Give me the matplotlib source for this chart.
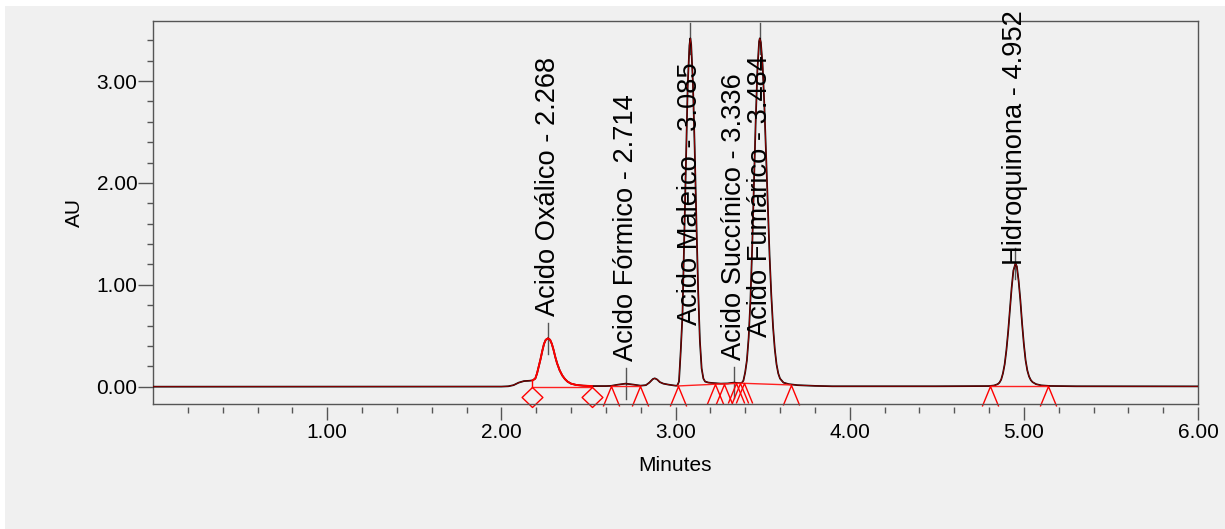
import numpy as np
import matplotlib
matplotlib.use('Agg')
import matplotlib.pyplot as plt
from matplotlib.path import Path
from matplotlib.patches import Rectangle
from matplotlib.ticker import FixedLocator, MultipleLocator, FormatStrFormatter

plt.rcParams['font.family'] = ['Liberation Sans', 'DejaVu Sans']

# detector trace, minutes vs AU
minutes = [0.00, 1.90, 2.00, 2.04, 2.07, 2.10, 2.13, 2.16, 2.18, 2.195,
           2.205, 2.215, 2.225, 2.235, 2.245, 2.255, 2.268, 2.28, 2.29, 2.30,
           2.31, 2.32, 2.335, 2.35, 2.365, 2.38, 2.40, 2.43, 2.47, 2.52,
           2.60, 2.63, 2.67, 2.714, 2.76, 2.80, 2.83, 2.85, 2.87, 2.881,
           2.895, 2.91, 2.93, 2.96, 2.99, 3.00, 3.01, 3.02, 3.03, 3.04,
           3.05, 3.06, 3.07, 3.08, 3.085, 3.09, 3.10, 3.11, 3.12, 3.13,
           3.14, 3.15, 3.16, 3.17, 3.19, 3.22, 3.26, 3.30, 3.336, 3.36,
           3.38, 3.39, 3.40, 3.41, 3.42, 3.43, 3.44, 3.45, 3.46, 3.47,
           3.48, 3.484, 3.49, 3.50, 3.51, 3.52, 3.53, 3.54, 3.55, 3.56,
           3.57, 3.58, 3.59, 3.60, 3.62, 3.65, 3.70, 3.80, 3.90, 4.50,
           4.80, 4.83, 4.85, 4.86, 4.87, 4.88, 4.89, 4.90, 4.91, 4.92,
           4.93, 4.94, 4.952, 4.96, 4.97, 4.98, 4.99, 5.00, 5.01, 5.02,
           5.03, 5.04, 5.05, 5.07, 5.10, 5.15, 5.30, 6.00]
au = [0.000, 0.000, 0.001, 0.004, 0.015, 0.040, 0.055, 0.058, 0.062, 0.080,
      0.130, 0.200, 0.270, 0.350, 0.420, 0.460, 0.475, 0.460, 0.420, 0.360,
      0.290, 0.230, 0.160, 0.110, 0.075, 0.050, 0.030, 0.017, 0.010, 0.006,
      0.006, 0.008, 0.020, 0.030, 0.020, 0.010, 0.015, 0.040, 0.075, 0.082,
      0.070, 0.045, 0.030, 0.020, 0.012, 0.010, 0.010, 0.050, 0.350, 0.700,
      1.450, 2.200, 2.950, 3.350, 3.420, 3.360, 2.980, 2.350, 1.620, 0.950,
      0.450, 0.180, 0.080, 0.050, 0.040, 0.035, 0.030, 0.032, 0.040, 0.035,
      0.035, 0.060, 0.140, 0.260, 0.480, 0.840, 1.350, 1.960, 2.580, 3.100,
      3.390, 3.420, 3.380, 3.160, 2.770, 2.280, 1.770, 1.290, 0.900, 0.590,
      0.370, 0.220, 0.130, 0.080, 0.040, 0.025, 0.015, 0.008, 0.004, 0.004,
      0.006, 0.012, 0.025, 0.040, 0.070, 0.130, 0.220, 0.360, 0.540, 0.760,
      0.970, 1.140, 1.210, 1.180, 1.040, 0.850, 0.620, 0.420, 0.260, 0.160,
      0.100, 0.065, 0.045, 0.025, 0.013, 0.007, 0.004, 0.003]

# identified peaks
peak_names = ['Acido Oxálico', 'Acido Fórmico', 'Acido Maleico',
              'Acido Succínico', 'Acido Fumárico', 'Hidroquinona']
peak_rt = [2.268, 2.714, 3.085, 3.336, 3.484, 4.952]
peak_height = [0.475, 0.030, 3.420, 0.040, 3.420, 1.210]

# integration events (start/end marks on the baseline)
event_rt = [2.175, 2.521, 2.627, 2.795, 3.013, 3.226, 3.278, 3.350, 3.370,
            3.392, 3.661, 4.805, 5.136]
event_au = [0.000, 0.000, 0.005, 0.005, 0.007, 0.024, 0.026, 0.032, 0.033,
            0.033, 0.017, 0.005, 0.005]
event_kind = ['d', 'd', 't', 't', 't', 't', 't', 't', 't', 't', 't', 't', 't']
baseline_runs = [(0, 1), (2, 3), (4, 10), (11, 12)]


def main():
    axis_col = '#555555'
    fig = plt.figure(figsize=(12.25, 5.29), dpi=100, facecolor='white')
    fig.add_artist(Rectangle((5 / 1225, 0), 1, 523 / 529, transform=fig.transFigure,
                             facecolor='#f0f0f0', edgecolor='none', zorder=-10))
    ax = fig.add_axes([153 / 1225, 125 / 529, 1045 / 1225, 383 / 529])
    ax.set_facecolor('#f0f0f0')

    t = np.array(minutes)
    y = np.array(au)
    ax.plot(t, y, color='black', lw=1.25, zorder=3)
    ax.plot(t, y, color='#cc0000', lw=0.6, alpha=0.8, zorder=4)
    # first integrated peak shows in red
    sel = (t >= event_rt[0]) & (t <= event_rt[1])
    ax.plot(t[sel], y[sel], color='#ff0000', lw=1.4, zorder=5)

    # integration baselines and drop line
    for i0, i1 in baseline_runs:
        ax.plot(event_rt[i0:i1 + 1], event_au[i0:i1 + 1], color='#ff2020', lw=1, zorder=4)
    ax.plot([event_rt[0], event_rt[0]], [event_au[0], np.interp(event_rt[0], t, y)],
            color='#ff0000', lw=1, zorder=4)

    tri = Path([(-0.41, -1), (0, 0), (0.41, -1)], [Path.MOVETO, Path.LINETO, Path.LINETO])
    dia = Path([(0, 0), (0.52, -0.5), (0, -1), (-0.52, -0.5), (0, 0)],
               [Path.MOVETO, Path.LINETO, Path.LINETO, Path.LINETO, Path.CLOSEPOLY])
    for rt, val, kind in zip(event_rt, event_au, event_kind):
        ax.plot([rt], [val], linestyle='none', marker=tri if kind == 't' else dia,
                markersize=28.8, markerfacecolor='none', markeredgecolor='#ff0000',
                markeredgewidth=1, clip_on=False, zorder=6)

    # peak labels with leader ticks
    label_y = [0.69, 0.25, 0.606, 0.26, 0.49, 1.19]
    for name, rt, h, ly in zip(peak_names, peak_rt, peak_height, label_y):
        ax.plot([rt, rt], [h - 0.155, h + 0.155], color=axis_col, lw=1, zorder=2)
        ax.text(rt, ly, f'{name} - {rt:.3f}', rotation=90, ha='center', va='bottom',
                fontsize=19.6, color='black', clip_on=False, zorder=7)

    ax.set_xlim(0, 6.0)
    ax.set_ylim(-0.17, 3.59)

    ax.xaxis.set_major_locator(FixedLocator([1, 2, 3, 4, 5, 6]))
    ax.xaxis.set_minor_locator(FixedLocator([round(v, 1) for v in np.arange(0.2, 6.0, 0.2)]))
    ax.xaxis.set_major_formatter(FormatStrFormatter('%.2f'))
    ax.yaxis.set_major_locator(FixedLocator([0, 1, 2, 3]))
    ax.yaxis.set_minor_locator(MultipleLocator(0.2))
    ax.yaxis.set_major_formatter(FormatStrFormatter('%.2f'))

    ax.tick_params(axis='x', which='major', length=9.2, width=1, color=axis_col,
                   pad=1.8, labelsize=15)
    ax.tick_params(axis='x', which='minor', length=4.3, width=1, color=axis_col)
    ax.tick_params(axis='y', which='major', length=10.6, width=1, color=axis_col,
                   pad=0.7, labelsize=15)
    ax.tick_params(axis='y', which='minor', length=4.5, width=1, color=axis_col)

    for side in ['left', 'top', 'right']:
        ax.spines[side].set_color(axis_col)
        ax.spines[side].set_linewidth(1)
    ax.spines['bottom'].set_position(('outward', 2.4))
    ax.spines['bottom'].set_visible(False)
    ax.plot([0, 1], [0, 0], transform=ax.transAxes, color=axis_col, lw=1,
            clip_on=False, zorder=8)

    ax.set_xlabel('Minutes', fontsize=15, labelpad=10.5)
    ax.set_ylabel('AU', fontsize=15, labelpad=9)

    fig.savefig('out.png', dpi=100, facecolor=fig.get_facecolor())


if __name__ == '__main__':
    main()
